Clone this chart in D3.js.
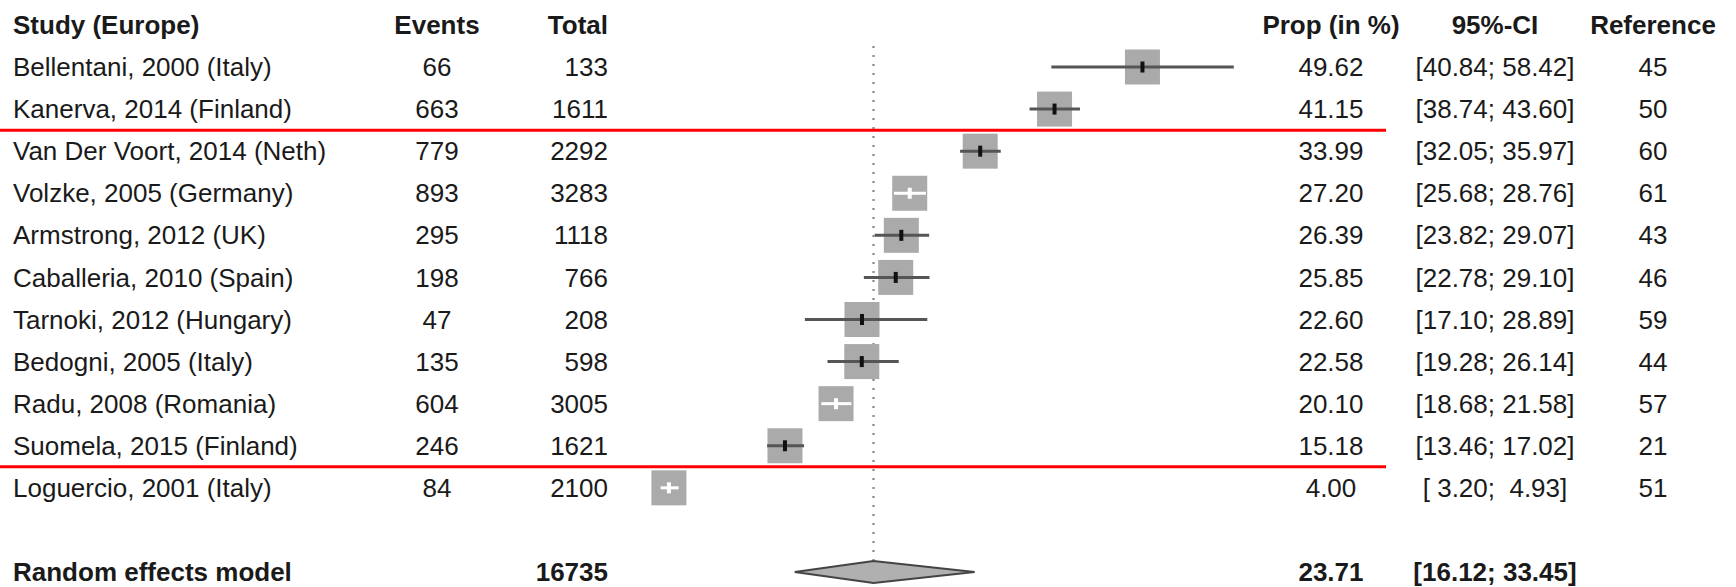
<!DOCTYPE html>
<html>
<head>
<meta charset="utf-8">
<script src="https://cdn.jsdelivr.net/npm/d3@7"></script>
<style>
  body { margin: 0; background: #fff; }
  svg text { font-family: "Liberation Sans", Arial, sans-serif; fill: #1a1a1a; white-space: pre; }
</style>
</head>
<body>
<div class="forestChart"></div>
<script>
// study data
const studies = ["Bellentani, 2000 (Italy)", "Kanerva, 2014 (Finland)", "Van Der Voort, 2014 (Neth)",
  "Volzke, 2005 (Germany)", "Armstrong, 2012 (UK)", "Caballeria, 2010 (Spain)", "Tarnoki, 2012 (Hungary)",
  "Bedogni, 2005 (Italy)", "Radu, 2008 (Romania)", "Suomela, 2015 (Finland)", "Loguercio, 2001 (Italy)"];
const events = [66, 663, 779, 893, 295, 198, 47, 135, 604, 246, 84];
const totals = [133, 1611, 2292, 3283, 1118, 766, 208, 598, 3005, 1621, 2100];
const props = [49.62, 41.15, 33.99, 27.20, 26.39, 25.85, 22.60, 22.58, 20.10, 15.18, 4.00];
const lower = [40.84, 38.74, 32.05, 25.68, 23.82, 22.78, 17.10, 19.28, 18.68, 13.46, 3.20];
const upper = [58.42, 43.60, 35.97, 28.76, 29.07, 29.10, 28.89, 26.14, 21.58, 17.02, 4.93];
const refs = [45, 50, 60, 61, 43, 46, 59, 44, 57, 21, 51];

// random effects summary
const summaryLabel = "Random effects model";
const summaryTotal = 16735;
const summaryProp = 23.71;
const summaryCI = [16.12, 33.45];

// rows after which the red separators go
const separatorsAfter = [1, 9];

class ForestPlot {

    constructor(){
        this.width = 1736;
        this.height = 587;
        this.boxSize = 35;
    }

    draw(){
        const svg = d3.select(".forestChart")
            .append("svg")
            .attr("width", this.width)
            .attr("height", this.height);

        // row index -> y (header is row -1, summary is row 12)
        const y = d3.scaleLinear().domain([0, 12]).range([67, 572]);
        // proportion (in %) -> x
        const x = d3.scaleLinear().domain([0, 60]).range([627.4, 1250.2]);
        this.y = y;
        this.x = x;

        const cols = {study: 13, events: 437, total: 608, prop: 1331, ci: 1495, ref: 1653};
        const f2 = d3.format(".2f");
        const fpad = d3.format(">5.2f");

        // header
        const header = svg.append("g").attr("font-weight", "bold").attr("font-size", 26);
        const headerY = y(-1);
        [["Study (Europe)", cols.study, "start"], ["Events", cols.events, "middle"], ["Total", cols.total, "end"],
         ["Prop (in %)", cols.prop, "middle"], ["95%-CI", cols.ci, "middle"], ["Reference", cols.ref, "middle"]]
            .forEach(h => {
                header.append("text").attr("x", h[1]).attr("y", headerY).attr("dy", "0.35em")
                    .attr("text-anchor", h[2]).text(h[0]);
            });

        // reference line at the pooled estimate
        svg.append("line")
            .attr("x1", x(summaryProp)).attr("x2", x(summaryProp))
            .attr("y1", y(-0.5)).attr("y2", y(12) - 11)
            .attr("stroke", "#888").attr("stroke-width", 2.2)
            .attr("stroke-dasharray", "2,7");

        // study rows
        const rows = svg.append("g").attr("font-size", 26);
        studies.forEach((s, i) => {
            const yy = y(i);
            rows.append("text").attr("x", cols.study).attr("y", yy).attr("dy", "0.35em").text(s);
            rows.append("text").attr("x", cols.events).attr("y", yy).attr("dy", "0.35em")
                .attr("text-anchor", "middle").text(events[i]);
            rows.append("text").attr("x", cols.total).attr("y", yy).attr("dy", "0.35em")
                .attr("text-anchor", "end").text(totals[i]);
            rows.append("text").attr("x", cols.prop).attr("y", yy).attr("dy", "0.35em")
                .attr("text-anchor", "middle").text(f2(props[i]));
            rows.append("text").attr("x", cols.ci).attr("y", yy).attr("dy", "0.35em")
                .attr("text-anchor", "middle").text("[" + fpad(lower[i]) + "; " + fpad(upper[i]) + "]");
            rows.append("text").attr("x", cols.ref).attr("y", yy).attr("dy", "0.35em")
                .attr("text-anchor", "middle").text(refs[i]);
        });

        this.drawBoxes(svg);

        // summary row
        const sum = svg.append("g").attr("font-size", 26).attr("font-weight", "bold");
        const sy = y(12);
        sum.append("text").attr("x", cols.study).attr("y", sy).attr("dy", "0.35em").text(summaryLabel);
        sum.append("text").attr("x", cols.total).attr("y", sy).attr("dy", "0.35em")
            .attr("text-anchor", "end").text(summaryTotal);
        sum.append("text").attr("x", cols.prop).attr("y", sy).attr("dy", "0.35em")
            .attr("text-anchor", "middle").text(f2(summaryProp));
        sum.append("text").attr("x", cols.ci).attr("y", sy).attr("dy", "0.35em")
            .attr("text-anchor", "middle").text("[" + fpad(summaryCI[0]) + "; " + fpad(summaryCI[1]) + "]");

        // diamond
        const dh = 11;
        svg.append("path")
            .attr("d", `M${x(summaryCI[0])},${sy} L${x(summaryProp)},${sy - dh} L${x(summaryCI[1])},${sy} L${x(summaryProp)},${sy + dh} Z`)
            .attr("fill", "#b0b0b0").attr("stroke", "#444").attr("stroke-width", 2);

        // red separators
        separatorsAfter.forEach(r => {
            svg.append("line")
                .attr("x1", 0).attr("x2", 1386)
                .attr("y1", y(r + 0.5)).attr("y2", y(r + 0.5))
                .attr("stroke", "#f00").attr("stroke-width", 3);
        });
    }

    drawBoxes(svg){
        const x = this.x, y = this.y, b = this.boxSize;
        studies.forEach((s, i) => {
            const yy = y(i);
            const cx = x(props[i]);
            // CI fits inside the box -> draw it white
            const inside = (x(upper[i]) - x(lower[i])) < b;
            const col = inside ? "#fff" : "#555";
            svg.append("rect")
                .attr("x", cx - b / 2).attr("y", yy - b / 2)
                .attr("width", b).attr("height", b)
                .attr("fill", "#aaa");
            svg.append("line")
                .attr("x1", x(lower[i])).attr("x2", x(upper[i]))
                .attr("y1", yy).attr("y2", yy)
                .attr("stroke", col).attr("stroke-width", 3);
            svg.append("rect")
                .attr("x", cx - 2).attr("y", yy - 5.5)
                .attr("width", 4).attr("height", 11)
                .attr("fill", inside ? "#fff" : "#111");
        });
    }
}

const chart = new ForestPlot();
chart.draw();
</script>
</body>
</html>
